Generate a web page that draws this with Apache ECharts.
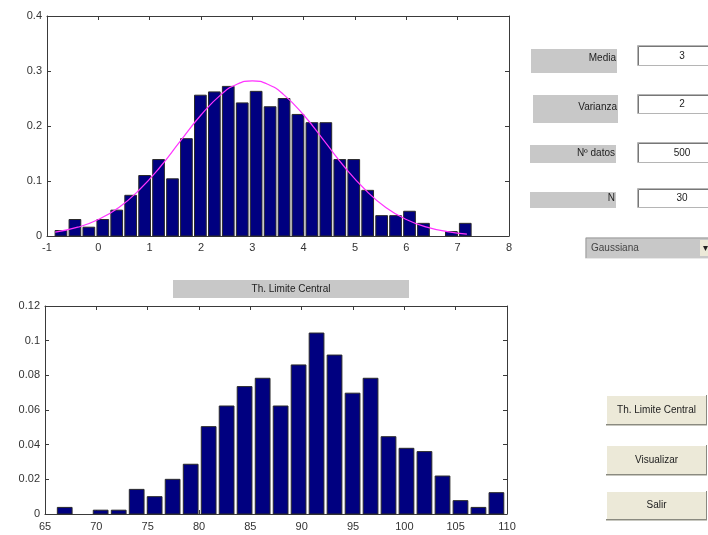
<!DOCTYPE html>
<html>
<head>
<meta charset="utf-8">
<script src="https://cdn.jsdelivr.net/npm/echarts@6/dist/echarts.min.js"></script>
<style>
html,body{margin:0;padding:0;background:#fff;}
#chart{width:708px;height:535px;}
</style>
</head>
<body>
<div id="chart"></div>
<script>
// ---------- data ----------
const topBinCenters = [-0.728, -0.456, -0.185, 0.087, 0.358, 0.630, 0.902, 1.173, 1.445, 1.716,
  1.988, 2.260, 2.531, 2.803, 3.074, 3.346, 3.618, 3.889, 4.161, 4.432,
  4.704, 4.976, 5.247, 5.519, 5.790, 6.062, 6.334, 6.605, 6.877, 7.148];
const topDensity = [0.010, 0.030, 0.016, 0.030, 0.047, 0.074, 0.110, 0.139, 0.104, 0.177,
  0.256, 0.262, 0.272, 0.242, 0.263, 0.235, 0.250, 0.221, 0.206, 0.206,
  0.139, 0.139, 0.083, 0.037, 0.037, 0.045, 0.023, 0, 0.008, 0.023];
const topBinWidth = 0.2716;

const curveX = [-0.84, -0.4, 0, 0.4, 0.8, 1.2, 1.6, 2.0, 2.4, 2.7, 3.0, 3.3, 3.6, 4.0, 4.4, 4.8, 5.2, 5.6, 6.0, 6.4, 6.8, 7.18];
const curveY = [0.007, 0.016, 0.030, 0.052, 0.084, 0.125, 0.173, 0.220, 0.258, 0.276, 0.282, 0.276, 0.258, 0.220, 0.173, 0.125, 0.084, 0.052, 0.030, 0.016, 0.008, 0.0035];

const bottomBinCenters = [66.92, 68.67, 70.42, 72.18, 73.93, 75.68, 77.43, 79.19, 80.94, 82.69,
  84.44, 86.20, 87.95, 89.70, 91.45, 93.20, 94.96, 96.71, 98.46, 100.21,
  101.96, 103.72, 105.47, 107.22, 108.97];
const bottomDensity = [0.0038, 0, 0.0022, 0.0022, 0.0142, 0.0100, 0.0200, 0.0287, 0.0504, 0.0623,
  0.0735, 0.0783, 0.0623, 0.0860, 0.1044, 0.0917, 0.0697, 0.0783, 0.0446, 0.0379,
  0.0360, 0.0219, 0.0077, 0.0038, 0.0123];
const bottomBinWidth = 1.752;

const topXTicks = [-1, 0, 1, 2, 3, 4, 5, 6, 7, 8];
const topYTicks = [0, 0.1, 0.2, 0.3, 0.4];
const bottomXTicks = [65, 70, 75, 80, 85, 90, 95, 100, 105, 110];
const bottomYTicks = [0, 0.02, 0.04, 0.06, 0.08, 0.1, 0.12];

const paramLabels = ['Media', 'Varianza', 'Nº datos', 'N'];
const paramValues = ['3', '2', '500', '30'];
const distributionChoice = 'Gaussiana';
const buttonLabels = ['Th. Limite Central', 'Visualizar', 'Salir'];
const sectionLabel = 'Th. Limite Central';

// ---------- styles ----------
const FONT = '"Liberation Sans", Arial, sans-serif';
const AXIS_COLOR = '#3a3a3a';
const LABEL_COLOR = '#333';

function axisPair(gridIndex, ticks, mainPos, mirrorPos, labelMargin) {
  const min = ticks[0], max = ticks[ticks.length - 1];
  const interval = ticks[1] - ticks[0];
  const base = {
    type: 'value', gridIndex, min, max, interval,
    splitLine: {show: false},
    axisLine: {show: true, onZero: false, lineStyle: {color: AXIS_COLOR, width: 1}},
    axisTick: {show: true, inside: true, length: 4, lineStyle: {color: AXIS_COLOR}}
  };
  return [
    Object.assign({}, base, {
      position: mainPos,
      axisLabel: {show: true, color: LABEL_COLOR, fontFamily: FONT, fontSize: 11, margin: labelMargin,
        formatter: v => String(Math.round(v * 1000) / 1000),
        showMinLabel: true, showMaxLabel: true}
    }),
    Object.assign({}, base, {position: mirrorPos, axisLabel: {show: false}})
  ];
}

function histRender(binWidth, ratio) {
  return function (params, api) {
    const c = api.value(0), v = api.value(1);
    if (!(v > 0)) return null;
    const p0 = api.coord([c, 0]);
    const p1 = api.coord([c, v]);
    const w = api.size([binWidth, 0])[0] * ratio;
    return {
      type: 'rect',
      shape: {x: p0[0] - w / 2, y: p1[1], width: w, height: p0[1] - p1[1]},
      style: {fill: '#000080', stroke: '#2a2a2a', lineWidth: 1}
    };
  };
}

// ---------- UI (GUI controls) drawn as graphics ----------
const graphics = [];
function rect(x, y, w, h, fill, stroke) {
  graphics.push({type: 'rect', shape: {x, y, width: w, height: h}, style: {fill, stroke: stroke || null, lineWidth: 1}, silent: true});
}
function line(x1, y1, x2, y2, color) {
  graphics.push({type: 'line', shape: {x1, y1, x2, y2}, style: {stroke: color, lineWidth: 1}, silent: true});
}
function text(str, x, y, align, color, size) {
  graphics.push({type: 'text', x, y, style: {text: str, font: (size || 10) + 'px ' + FONT, fill: color || '#222', align: align || 'center', verticalAlign: 'middle'}, silent: true});
}

// section label under the top axes
rect(173, 280, 236, 18, '#c8c8c8');
text(sectionLabel, 291, 289, 'center', '#222', 10);

// parameter label boxes and edit boxes
const labelBoxes = [[531, 49, 86, 24, 58], [533, 95, 85, 28, 107], [530, 145, 86, 18, 153], [530, 192, 86, 16, 198]];
const editBoxes = [[637, 45, 20], [637, 94, 19], [637, 142, 20], [637, 188, 19]];
for (let i = 0; i < paramLabels.length; i++) {
  const b = labelBoxes[i];
  rect(b[0], b[1], b[2], b[3], '#c8c8c8');
  text(paramLabels[i], b[0] + b[2] - 1, b[4], 'right', '#222', 10);
  const e = editBoxes[i];
  rect(e[0] + 0.5, e[1] + 0.5, 88, e[2], '#ffffff', '#b5b5b5');
  line(e[0] + 1.5, e[1] + 1.5, e[0] + 88, e[1] + 1.5, '#777');
  line(e[0] + 1.5, e[1] + 1.5, e[0] + 1.5, e[1] + e[2], '#777');
  text(paramValues[i], 682, e[1] + e[2] / 2 + 1, 'center', '#222', 10);
}

// dropdown
rect(585.5, 237.5, 130, 21, '#c8c8c8', '#e8e8e8');
line(586, 238, 715, 238, '#9a9a9a');
line(586, 238, 586, 258, '#9a9a9a');
rect(700, 240, 14, 16, '#ece9d8');
text('▾', 705, 248, 'center', '#222', 10);
text(distributionChoice, 591, 248, 'left', '#444', 10);

// buttons
const buttonBoxes = [[606, 395, 101, 30], [606, 445, 101, 30], [606, 491, 101, 29]];
for (let i = 0; i < buttonLabels.length; i++) {
  const b = buttonBoxes[i];
  rect(b[0], b[1], b[2], b[3], '#ece9d8');
  line(b[0], b[1] + 0.5, b[0] + b[2], b[1] + 0.5, '#ffffff');
  line(b[0] + 0.5, b[1], b[0] + 0.5, b[1] + b[3], '#ffffff');
  line(b[0], b[1] + b[3] - 0.5, b[0] + b[2], b[1] + b[3] - 0.5, '#8a8a80');
  line(b[0], b[1] + b[3] + 0.5, b[0] + b[2], b[1] + b[3] + 0.5, '#c8c8c0');
  line(b[0] + b[2] - 0.5, b[1], b[0] + b[2] - 0.5, b[1] + b[3], '#8a8a80');
  text(buttonLabels[i], b[0] + b[2] / 2, b[1] + b[3] / 2, 'center', '#222', 10);
}

// ---------- chart ----------
const topAxesX = axisPair(0, topXTicks, 'bottom', 'top', 6);
const topAxesY = axisPair(0, topYTicks, 'left', 'right', 5);
const botAxesX = axisPair(1, bottomXTicks, 'bottom', 'top', 7);
const botAxesY = axisPair(1, bottomYTicks, 'left', 'right', 5);

const chart = echarts.init(document.getElementById('chart'), null, {renderer: 'canvas'});
chart.setOption({
  animation: false,
  backgroundColor: '#ffffff',
  grid: [
    {left: 47, top: 16, width: 462, height: 220, containLabel: false},
    {left: 45, top: 306, width: 462, height: 208, containLabel: false}
  ],
  xAxis: [topAxesX[0], topAxesX[1], botAxesX[0], botAxesX[1]],
  yAxis: [topAxesY[0], topAxesY[1], botAxesY[0], botAxesY[1]],
  series: [
    {
      type: 'custom', name: 'Histograma', xAxisIndex: 0, yAxisIndex: 0,
      renderItem: histRender(topBinWidth, 0.84),
      encode: {x: 0, y: 1},
      data: topBinCenters.map((c, i) => [c, topDensity[i]]),
      z: 2
    },
    {
      type: 'line', name: 'Gaussiana', xAxisIndex: 0, yAxisIndex: 0,
      data: curveX.map((x, i) => [x, curveY[i]]),
      smooth: true, showSymbol: false, symbol: 'none',
      lineStyle: {color: '#ff33ff', width: 1.2},
      z: 3
    },
    {
      type: 'custom', name: 'TLC', xAxisIndex: 2, yAxisIndex: 2,
      renderItem: histRender(bottomBinWidth, 0.82),
      encode: {x: 0, y: 1},
      data: bottomBinCenters.map((c, i) => [c, bottomDensity[i]]),
      z: 2
    }
  ],
  graphic: graphics
});
</script>
</body>
</html>
